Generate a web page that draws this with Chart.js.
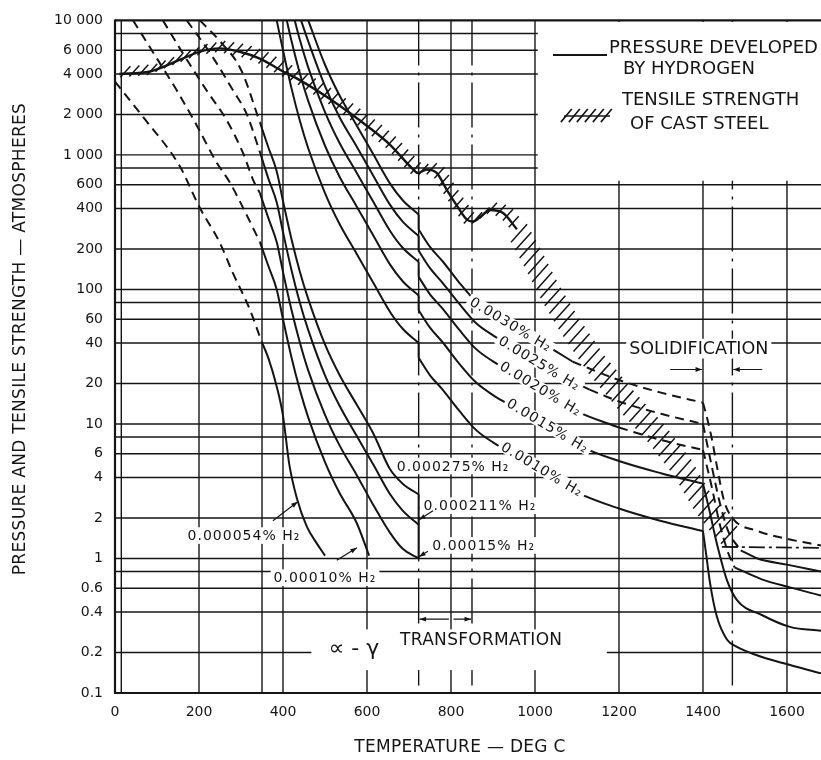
<!DOCTYPE html>
<html>
<head>
<meta charset="utf-8">
<title>Hydrogen pressure and tensile strength of cast steel</title>
<script src="https://cdn.jsdelivr.net/npm/chart.js@4/dist/chart.umd.min.js"></script>
<style>
  html, body { margin: 0; padding: 0; background: #fff; }
  #frame { position: relative; width: 821px; height: 760px; }
</style>
</head>
<body>
<div id="frame"><canvas id="chart"></canvas></div>
<script>
const INK = '#151515';
const FONT = "'DejaVu Sans', 'Liberation Sans', sans-serif";

// ---- axes ----
const X_MIN = 0, X_MAX = 1681, Y_MIN = 0.1, Y_MAX = 10000;
const xTickValues = [0, 200, 400, 600, 800, 1000, 1200, 1400, 1600];
const xGridSolid = [15, 200, 350, 400, 600, 800, 1000, 1200, 1400, 1600];
const xGridDashDot = [723, 850, 1470];
const yGridValues = [0.2, 0.4, 0.6, 0.8, 1, 2, 4, 6, 8, 10, 20, 40, 60, 80, 100, 200, 400, 600, 800, 1000, 2000, 4000, 6000, 8000];
const yTickValues = [0.1, 0.2, 0.4, 0.6, 1, 2, 4, 6, 10, 20, 40, 60, 100, 200, 400, 600, 1000, 2000, 4000, 6000, 10000];
const yTickLabels = ['0.1', '0.2', '0.4', '0.6', '1', '2', '4', '6', '10', '20', '40', '60', '100', '200', '400', '600', '1 000', '2 000', '4 000', '6 000', '10 000'];

// ---- hydrogen pressure curves: [temperature °C, pressure atm] ----
// 0.000054 % H2
const h000054Dash = [[0, 3500], [66, 1930], [154, 826], [201, 410], [249, 224], [280, 134], [321, 71], [349, 41]];
const h000054 = [[349, 41], [365, 31], [385, 19], [400, 11.5], [415, 5], [433, 2.8], [456, 1.75], [480, 1.3], [500, 1.05]];
// 0.00010 % H2
const h00010Dash = [[43, 10000], [100, 5200], [147, 3020], [195, 1650], [240, 900], [274, 620], [314, 355], [345, 225]];
const h00010 = [[345, 225], [365, 150], [385, 100], [400, 60], [420, 31.5], [440, 18], [460, 11.2], [500, 5.2], [535, 3.05], [575, 1.85], [605, 1.05]];
// 0.00015 % H2
const h00015Dash = [[114, 10000], [160, 5800], [218, 3020], [266, 1810], [305, 1030], [329, 650], [345, 520]];
const h00015 = [[345, 520], [365, 340], [385, 225], [400, 135], [420, 71], [440, 40.5], [460, 25], [500, 11.7], [535, 6.9], [575, 4.2], [615, 2.5], [655, 1.55], [685, 1.18], [723, 1.0]];
// 0.000211 % H2
const h000211Dash = [[171, 10000], [230, 5500], [281, 3020], [314, 2000], [345, 1050]];
const h000211 = [[345, 1050], [365, 670], [385, 445], [400, 267], [420, 140], [440, 80], [460, 50], [500, 23], [535, 13.6], [575, 8.2], [615, 5.0], [655, 3.0], [685, 2.27], [723, 1.78]];
const h000211Drop = [[723, 1.78], [723, 1.0]];
// 0.000275 % H2
const h000275Dash = [[202, 10000], [250, 7000], [300, 4300], [345, 1750]];
const h000275 = [[345, 1750], [365, 1140], [385, 756], [400, 454], [420, 238], [440, 136], [460, 85], [500, 39], [535, 23], [575, 14], [615, 8.5], [655, 4.6], [685, 3.6], [723, 3.0]];
const h000275Drop = [[723, 3.0], [723, 1.78]];

// 0.0010 % H2
const h0010Alpha = [[385, 10000], [400, 6000], [420, 3150], [440, 1800], [460, 1120], [500, 520], [535, 305], [575, 185], [615, 112], [655, 68], [685, 51], [723, 40]];
const h0010Drop = [[723, 40], [723, 31]];
const h0010Gamma = [[723, 31], [750, 23], [780, 18], [820, 12.5], [860, 9], [900, 7.3], [950, 5.9], [1000, 4.8], [1050, 3.85], [1100, 3.1], [1200, 2.35], [1300, 1.9], [1400, 1.6]];
const h0010Liquid = [[1400, 1.6], [1408, 1.05], [1417, 0.65], [1433, 0.37], [1457, 0.25], [1481, 0.22], [1530, 0.19], [1590, 0.167], [1681, 0.14]];
// 0.0015 % H2
const h0015Alpha = [[409, 10000], [420, 7090], [440, 4050], [460, 2520], [500, 1170], [535, 686], [575, 416], [615, 252], [655, 153], [685, 115], [723, 90]];
const h0015Drop = [[723, 90], [723, 70]];
const h0015Gamma = [[723, 70], [750, 52], [780, 40.5], [820, 28], [860, 20.3], [900, 16.4], [950, 13.3], [1000, 10.8], [1050, 8.7], [1100, 7.0], [1200, 5.3], [1300, 4.3], [1400, 3.6]];
const h0015Liquid = [[1400, 3.6], [1415, 2.3], [1433, 1.29], [1457, 0.69], [1481, 0.49], [1540, 0.38], [1607, 0.31], [1681, 0.29]];
// 0.0020 % H2
const h0020Alpha = [[428, 10000], [440, 7200], [460, 4480], [500, 2080], [535, 1220], [575, 740], [615, 448], [655, 272], [685, 204], [723, 160]];
const h0020Drop = [[723, 160], [723, 124]];
const h0020Gamma = [[723, 124], [750, 92], [780, 72], [820, 50], [860, 36], [900, 29.2], [950, 23.6], [1000, 19.2], [1050, 15.4], [1100, 12.4], [1200, 9.4]];
const h0020GammaDash = [[1200, 9.4], [1300, 7.6], [1400, 6.4]];
const h0020MeltDash = [[1400, 6.4], [1420, 3.5], [1440, 1.8], [1460, 1.1], [1475, 0.86]];
const h0020Liquid = [[1475, 0.86], [1540, 0.7], [1607, 0.61], [1681, 0.53]];
// 0.0025 % H2
const h0025Alpha = [[443, 10000], [460, 7000], [500, 3250], [535, 1900], [575, 1160], [615, 700], [655, 425], [685, 319], [723, 250]];
const h0025Drop = [[723, 250], [723, 194]];
const h0025Gamma = [[723, 194], [750, 144], [780, 112], [820, 78], [860, 56], [900, 45.6], [950, 36.9], [1000, 30], [1050, 24], [1130, 18]];
const h0025GammaDash = [[1130, 18], [1200, 14.7], [1300, 11.9], [1400, 10]];
const h0025MeltDash = [[1400, 10], [1420, 5], [1440, 2.6], [1460, 1.6], [1490, 1.15]];
const h0025Liquid = [[1490, 1.15], [1530, 1.0], [1600, 0.9], [1681, 0.8]];
// 0.0030 % H2
const h0030Alpha = [[460, 10000], [500, 4680], [535, 2750], [575, 1665], [615, 1010], [655, 612], [685, 460], [723, 360]];
const h0030Drop = [[723, 360], [723, 279]];
const h0030Gamma = [[723, 279], [750, 207], [780, 162], [820, 112], [860, 81], [900, 66], [950, 53], [1000, 43.2], [1050, 34.7], [1090, 29]];
const h0030GammaDash = [[1090, 29], [1200, 21.2], [1300, 17.1], [1400, 14.4]];
const h0030MeltDash = [[1400, 14.4], [1410, 11], [1422, 7.5], [1434, 4.7], [1450, 2.7], [1470, 2.0], [1530, 1.6], [1600, 1.4], [1681, 1.25]];
// level line in the liquid range
const liquidLevel = [[1445, 1.22], [1681, 1.2]];

// ---- tensile strength of cast steel ----
const tensileLine = [[10, 4000], [83, 4170], [161, 5200], [202, 5860], [249, 6200], [297, 5850], [345, 5200], [400, 4170], [440, 3600], [512, 2600], [607, 1580], [655, 1190], [710, 780], [721, 735], [742, 780], [766, 735], [790, 550], [814, 420], [838, 330], [852, 320], [874, 355], [892, 390], [924, 370], [957, 280]];
const tensileBand = [[957, 280], [996, 167], [1036, 95], [1083, 54], [1147, 27.5], [1219, 14.7], [1290, 8.4], [1352, 4.7], [1400, 2.6], [1440, 1.8], [1470, 1.4]];

// ---- dataset helpers ----
const toPoints = arr => arr.map(([x, y]) => ({ x, y }));
function curve(arr, dashed) {
  return { data: toPoints(arr), borderColor: INK, borderWidth: 2, borderDash: dashed ? [9, 6] : [],
           pointRadius: 0, cubicInterpolationMode: 'monotone', fill: false };
}
function straight(arr, dashed) {
  return { data: toPoints(arr), borderColor: INK, borderWidth: 2, borderDash: dashed ? [6, 4] : [],
           pointRadius: 0, tension: 0, fill: false };
}

const datasets = [
  curve(h000054Dash, true), curve(h000054, false),
  curve(h00010Dash, true), curve(h00010, false),
  curve(h00015Dash, true), curve(h00015, false),
  curve(h000211Dash, true), curve(h000211, false), straight(h000211Drop, false),
  curve(h000275Dash, true), curve(h000275, false), straight(h000275Drop, false),
  curve(h0010Alpha, false), straight(h0010Drop, false), curve(h0010Gamma, false), curve(h0010Liquid, false),
  curve(h0015Alpha, false), straight(h0015Drop, false), curve(h0015Gamma, false), curve(h0015Liquid, false),
  curve(h0020Alpha, false), straight(h0020Drop, false), curve(h0020Gamma, false), curve(h0020GammaDash, true), curve(h0020MeltDash, true), curve(h0020Liquid, false),
  curve(h0025Alpha, false), straight(h0025Drop, false), curve(h0025Gamma, false), curve(h0025GammaDash, true), curve(h0025MeltDash, true), curve(h0025Liquid, false),
  curve(h0030Alpha, false), straight(h0030Drop, false), curve(h0030Gamma, false), curve(h0030GammaDash, true), curve(h0030MeltDash, true),
  Object.assign(straight(liquidLevel, false), { borderDash: [16, 4, 3, 4], borderWidth: 1.8 }),
  Object.assign(curve(tensileLine, false), { borderWidth: 2.4 })
];

// ---- annotations (placed in data coordinates); inline ones break the curve they name ----
const notes = [
  { text: '0.000054% H₂', t: 307, p: 1.48, rot: 0, size: 14 },
  { text: '0.00010% H₂', t: 500, p: 0.72, rot: 0, size: 14 },
  { text: '0.00015% H₂', t: 878, p: 1.25, rot: 0, size: 14 },
  { text: '0.000211% H₂', t: 869, p: 2.47, rot: 0, size: 14 },
  { text: '0.000275% H₂', t: 805, p: 4.87, rot: 0, size: 14 },
  { text: '0.0030% H₂', t: 943, p: 55, rot: 31, size: 14, inline: true },
  { text: '0.0025% H₂', t: 1011, p: 28.3, rot: 31, size: 14, inline: true },
  { text: '0.0020% H₂', t: 1014, p: 18.3, rot: 31, size: 14, inline: true },
  { text: '0.0015% H₂', t: 1031, p: 9.7, rot: 31, size: 14, inline: true },
  { text: '0.0010% H₂', t: 1017, p: 4.6, rot: 31, size: 14, inline: true },
  { text: 'SOLIDIFICATION', t: 1390, p: 36.3, rot: 0, size: 17.5, spacing: 0 },
  { text: 'TRANSFORMATION', t: 872, p: 0.248, rot: 0, size: 17, spacing: 0.3 },
  { text: '∝ - γ', t: 569, p: 0.216, rot: 0, size: 22, spacing: 0 }
];
const pointers = [
  { from: [376, 1.91], to: [435, 2.64] },
  { from: [528, 0.97], to: [576, 1.2] },
  { from: [757, 2.26], to: [724, 1.94] },
  { from: [745, 1.13], to: [724, 1.03] },
  { from: [795, 0.354], to: [725, 0.354] },
  { from: [806, 0.354], to: [848, 0.354] },
  { from: [1322, 25.4], to: [1398, 25.4] },
  { from: [1541, 25.4], to: [1472, 25.4] }
];
// blank areas behind the legend and the transformation note
const clearAreas = [
  { t0: 1003, t1: X_MAX, p0: 643, p1: Y_MAX },
  { t0: 464, t1: 1171, p0: 0.148, p1: 0.305 }
];

function seg(ctx, x0, y0, x1, y1) { ctx.beginPath(); ctx.moveTo(x0, y0); ctx.lineTo(x1, y1); ctx.stroke(); }
function arrow(ctx, x0, y0, x1, y1) {
  seg(ctx, x0, y0, x1, y1);
  const a = Math.atan2(y1 - y0, x1 - x0), L = 7;
  ctx.beginPath();
  ctx.moveTo(x1, y1);
  ctx.lineTo(x1 - L * Math.cos(a - 0.35), y1 - L * Math.sin(a - 0.35));
  ctx.lineTo(x1 - L * Math.cos(a + 0.35), y1 - L * Math.sin(a + 0.35));
  ctx.closePath(); ctx.fill();
}
function hatch(ctx, P, spacing, len, back, angDeg) {
  const ang = angDeg * Math.PI / 180, dx = Math.cos(ang), dy = -Math.sin(ang);
  let carry = spacing * 0.5;
  ctx.beginPath();
  for (let i = 0; i < P.length - 1; i++) {
    const [x0, y0] = P[i], [x1, y1] = P[i + 1];
    const L = Math.hypot(x1 - x0, y1 - y0);
    let d = carry;
    while (d <= L) {
      const f = d / L, cx = x0 + (x1 - x0) * f, cy = y0 + (y1 - y0) * f;
      ctx.moveTo(cx - back * dx, cy - back * dy);
      ctx.lineTo(cx + (len - back) * dx, cy + (len - back) * dy);
      d += spacing;
    }
    carry = d - L;
  }
  ctx.stroke();
}
function noteFrame(ctx, n, x, y, fn) {
  ctx.save();
  ctx.translate(x, y);
  ctx.rotate(n.rot * Math.PI / 180);
  ctx.font = `${n.size}px ${FONT}`;
  ctx.letterSpacing = (n.spacing === undefined ? 1 : n.spacing) + 'px';
  ctx.textAlign = 'center';
  ctx.textBaseline = 'middle';
  fn(ctx.measureText(n.text).width);
  ctx.restore();
}
function noteBox(ctx, n, x, y, padY) {
  noteFrame(ctx, n, x, y, w => {
    const h = n.size * 0.9;
    ctx.fillStyle = '#fff';
    ctx.fillRect(-w / 2 - 3, -h / 2 - padY, w + 6, h + 2 * padY);
  });
}

const decor = {
  id: 'decor',
  beforeDatasetsDraw(chart) {
    const { ctx, chartArea: a, scales: { x, y } } = chart;
    ctx.save();
    ctx.fillStyle = '#fff';
    ctx.fillRect(a.left, a.top, a.right - a.left, a.bottom - a.top);
    ctx.strokeStyle = INK;
    ctx.lineWidth = 1.4;
    for (const v of yGridValues) { const py = y.getPixelForValue(v); seg(ctx, a.left, py, a.right, py); }
    for (const v of xGridSolid) { const px = x.getPixelForValue(v); seg(ctx, px, a.top, px, a.bottom); }
    ctx.setLineDash([45, 7, 3, 7]);
    for (const v of xGridDashDot) { const px = x.getPixelForValue(v); seg(ctx, px, a.top, px, a.bottom); }
    ctx.setLineDash([]);
    // cleared areas
    ctx.fillStyle = '#fff';
    for (const c of clearAreas) {
      const x0 = x.getPixelForValue(c.t0) + 1.5, x1 = x.getPixelForValue(c.t1);
      const y0 = y.getPixelForValue(c.p1) + 1.5, y1 = y.getPixelForValue(c.p0);
      ctx.fillRect(x0, y0, x1 - x0, y1 - y0);
    }
    // white backing behind free-standing annotation text
    for (const n of notes) {
      if (!n.inline) noteBox(ctx, n, x.getPixelForValue(n.t), y.getPixelForValue(n.p), 2);
    }
    // frame
    ctx.lineWidth = 2.2;
    seg(ctx, a.left, a.top, a.right, a.top);
    seg(ctx, a.left, a.bottom, a.right, a.bottom);
    seg(ctx, a.left, a.top - 1, a.left, a.bottom + 1);
    ctx.restore();
  },
  afterDatasetsDraw(chart) {
    const { ctx, chartArea: a, scales: { x, y } } = chart;
    const px = ([t, p]) => [x.getPixelForValue(t), y.getPixelForValue(p)];
    ctx.save();
    ctx.beginPath(); ctx.rect(a.left, a.top, a.right - a.left, a.bottom - a.top); ctx.clip();
    ctx.strokeStyle = INK; ctx.fillStyle = INK;
    // tensile strength hatching
    ctx.lineWidth = 1.5;
    hatch(ctx, tensileLine.map(px), 9, 15, 5, 48);
    hatch(ctx, tensileBand.map(px), 9, 24, 12, 48);
    // pointers
    ctx.lineWidth = 1.2;
    for (const r of pointers) {
      const [x0, y0] = px(r.from), [x1, y1] = px(r.to);
      arrow(ctx, x0, y0, x1, y1);
    }
    // inline labels interrupt their curve
    for (const n of notes) {
      if (n.inline) noteBox(ctx, n, x.getPixelForValue(n.t), y.getPixelForValue(n.p), 0);
    }
    // annotation text
    for (const n of notes) {
      noteFrame(ctx, n, x.getPixelForValue(n.t), y.getPixelForValue(n.p), () => {
        ctx.fillStyle = INK;
        ctx.fillText(n.text, 0, 1);
      });
    }
    ctx.restore();

    // legend
    ctx.save();
    ctx.fillStyle = INK; ctx.strokeStyle = INK;
    ctx.font = `18px ${FONT}`;
    ctx.textBaseline = 'middle';
    ctx.textAlign = 'left';
    ctx.lineWidth = 2;
    seg(ctx, 553, 55, 607, 55);
    ctx.fillText('PRESSURE DEVELOPED', 609, 48);
    ctx.fillText('BY HYDROGEN', 623, 69);
    ctx.lineWidth = 1.6;
    seg(ctx, 564, 116, 610, 116);
    hatch(ctx, [[562, 116], [612, 116]], 8, 17, 8, 50);
    ctx.fillText('TENSILE STRENGTH', 622, 100);
    ctx.fillText('OF CAST STEEL', 630, 124);
    ctx.restore();
  },
  afterDraw(chart) {
    const { ctx } = chart;
    ctx.save();
    ctx.fillStyle = INK;
    ctx.font = `17px ${FONT}`;
    ctx.letterSpacing = '0.3px';
    ctx.textAlign = 'center';
    ctx.textBaseline = 'middle';
    ctx.fillText('TEMPERATURE — DEG C', 460, 748);
    ctx.translate(21, 339);
    ctx.rotate(-Math.PI / 2);
    ctx.fillText('PRESSURE AND TENSILE STRENGTH — ATMOSPHERES', 0, 0);
    ctx.restore();
  }
};

Chart.defaults.font.family = FONT;
Chart.defaults.color = INK;

new Chart(document.getElementById('chart'), {
  type: 'line',
  data: { datasets },
  options: {
    responsive: true,
    maintainAspectRatio: false,
    devicePixelRatio: 1,
    animation: false,
    layout: { padding: { top: 17, left: 0, right: 0, bottom: 0 } },
    plugins: { legend: { display: false }, tooltip: { enabled: false } },
    elements: { point: { radius: 0 } },
    scales: {
      x: {
        type: 'linear', min: X_MIN, max: X_MAX,
        grid: { display: false, drawTicks: false },
        border: { display: false },
        afterBuildTicks: s => { s.ticks = xTickValues.map(v => ({ value: v })); },
        afterFit: s => { s.height = 67; },
        ticks: { autoSkip: false, maxRotation: 0, padding: 11, font: { size: 14 }, color: INK,
                 callback: v => String(v) }
      },
      y: {
        type: 'logarithmic', min: Y_MIN, max: Y_MAX,
        grid: { display: false, drawTicks: false },
        border: { display: false },
        afterBuildTicks: s => { s.ticks = yTickValues.map(v => ({ value: v })); },
        afterFit: s => { s.width = 115; },
        ticks: { autoSkip: false, padding: 12, font: { size: 14 }, color: INK,
                 callback: v => {
                   const i = yTickValues.findIndex(t => Math.abs(t - v) / t < 1e-6);
                   return i >= 0 ? yTickLabels[i] : '';
                 } }
      }
    }
  },
  plugins: [decor]
});
</script>
</body>
</html>
